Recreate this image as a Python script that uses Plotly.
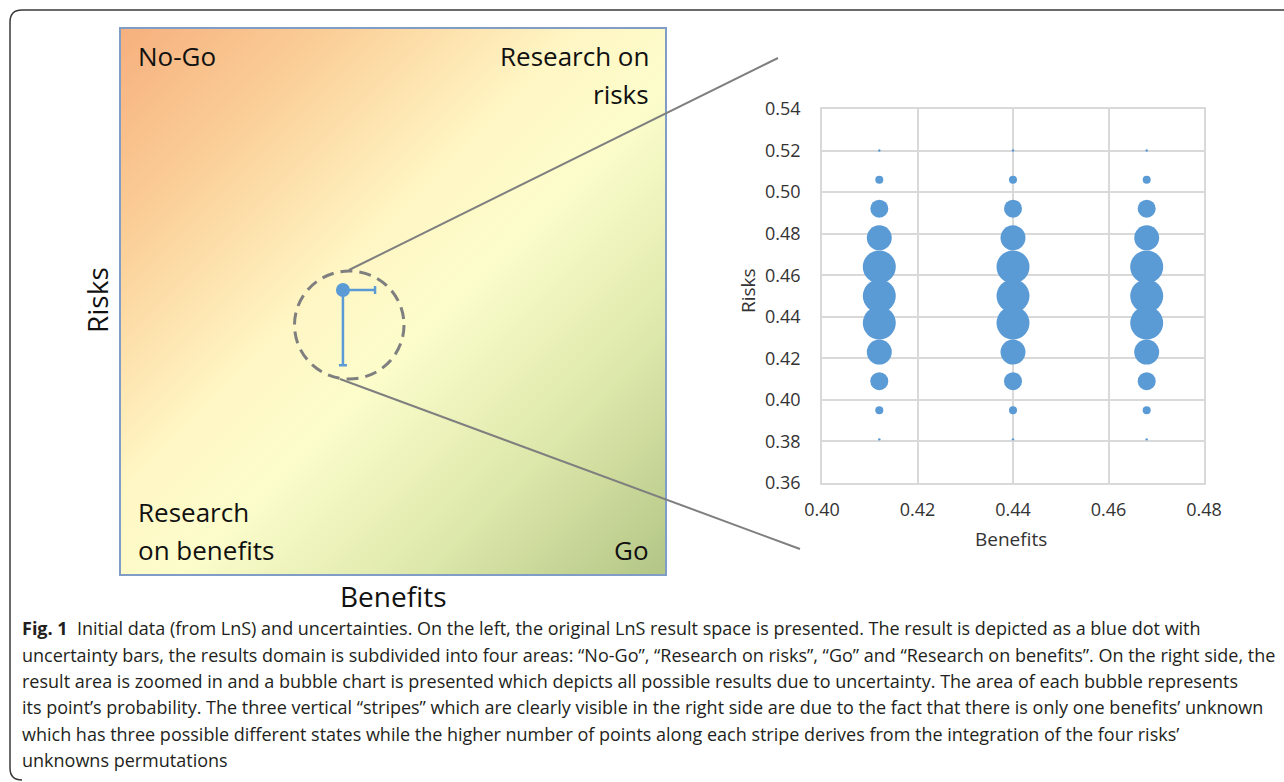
import base64
import numpy as np
import plotly.graph_objects as go

# ---------------- data ----------------
# Left panel: the LnS result (benefits, risks) with its uncertainty extents
result_benefits = [0.408]
result_risks = [0.521]
benefits_err_plus = [0.059]
risks_err_minus = [0.138]

# Right panel: bubble chart of all possible results
benefit_states = [0.412, 0.440, 0.468]
benefit_state_probs = [1 / 3, 1 / 3, 1 / 3]
risk_levels = [0.520, 0.506, 0.492, 0.478, 0.464, 0.450, 0.437, 0.423, 0.409, 0.395, 0.381]
risk_level_probs = [0.0011, 0.0121, 0.0611, 0.1178, 0.2053, 0.2053, 0.2053, 0.1178, 0.0611, 0.0121, 0.0011]

x_ticks = [0.40, 0.42, 0.44, 0.46, 0.48]
y_ticks = [0.36, 0.38, 0.40, 0.42, 0.44, 0.46, 0.48, 0.50, 0.52, 0.54]

caption_lines = [
    "<b>Fig. 1</b>\u00a0\u00a0Initial data (from LnS) and uncertainties. On the left, the original LnS result space is presented. The result is depicted as a blue dot with",
    "uncertainty bars, the results domain is subdivided into four areas: \u201cNo-Go\u201d, \u201cResearch on risks\u201d, \u201cGo\u201d and \u201cResearch on benefits\u201d. On the right side, the",
    "result area is zoomed in and a bubble chart is presented which depicts all possible results due to uncertainty. The area of each bubble represents",
    "its point\u2019s probability. The three vertical \u201cstripes\u201d which are clearly visible in the right side are due to the fact that there is only one benefits\u2019 unknown",
    "which has three possible different states while the higher number of points along each stripe derives from the integration of the four risks\u2019",
    "unknowns permutations",
]

# ---------------- layout helpers ----------------
W, H = 1284, 782


def fx(px):
    return px / W


def fy(py):
    return 1 - py / H


BLUE = "#5b9bd5"
GRAY = "#7f7f7f"
FONT = "Open Sans"

# diagonal background gradient (orange top-left -> yellow -> green bottom-right)
grad_svg = (
    '<svg xmlns="http://www.w3.org/2000/svg" width="400" height="400">'
    '<defs><linearGradient id="g" x1="0" y1="0" x2="1" y2="1">'
    '<stop offset="0" stop-color="#f6b07e"/>'
    '<stop offset="0.2" stop-color="#fbcf98"/>'
    '<stop offset="0.42" stop-color="#fff6c4"/>'
    '<stop offset="0.55" stop-color="#fcfdcb"/>'
    '<stop offset="0.78" stop-color="#dce7aa"/>'
    '<stop offset="1" stop-color="#b3c686"/>'
    '</linearGradient></defs>'
    '<rect width="400" height="400" fill="url(#g)"/></svg>'
)
grad_uri = "data:image/svg+xml;base64," + base64.b64encode(grad_svg.encode()).decode()

fig = go.Figure()

# result dot with uncertainty bars
fig.add_trace(go.Scatter(
    x=result_benefits, y=result_risks, mode="markers", xaxis="x2", yaxis="y2",
    marker=dict(size=14, color=BLUE),
    error_x=dict(type="data", symmetric=False, array=benefits_err_plus, arrayminus=[0],
                 color=BLUE, thickness=2.5, width=4),
    error_y=dict(type="data", symmetric=False, array=[0], arrayminus=risks_err_minus,
                 color=BLUE, thickness=2.5, width=4),
    hoverinfo="skip", showlegend=False,
))

# bubble chart: bubble area proportional to point probability
bx, by, bp = [], [], []
for b, pb in zip(benefit_states, benefit_state_probs):
    for r, pr in zip(risk_levels, risk_level_probs):
        bx.append(b)
        by.append(r)
        bp.append(pb * pr)
bp = np.array(bp)
sizes = 33 * np.sqrt(bp / bp.max())
fig.add_trace(go.Scatter(
    x=bx, y=by, mode="markers", xaxis="x", yaxis="y",
    marker=dict(size=sizes, color=BLUE, line=dict(width=0), opacity=1),
    showlegend=False,
))

grid_col = "#d9d9d9"
tick_font = dict(family=FONT, size=18, color="#333333")
fig.update_layout(
    width=W, height=H, margin=dict(l=0, r=0, t=0, b=0, autoexpand=False),
    paper_bgcolor="white", plot_bgcolor="rgba(0,0,0,0)", showlegend=False,
    images=[dict(source=grad_uri, xref="x2", yref="y2", x=0, y=1, sizex=1, sizey=1,
                 sizing="stretch", xanchor="left", yanchor="top", layer="below")],
    xaxis=dict(domain=[fx(822), fx(1204)], range=[0.40, 0.48], tickvals=x_ticks,
               tickformat=".2f", showgrid=True, gridcolor=grid_col, gridwidth=1.5,
               zeroline=False, showline=True, linecolor=grid_col, linewidth=1.5,
               mirror=True, ticks="", tickfont=tick_font, ticklabelstandoff=10,
               anchor="y", fixedrange=True, automargin=False),
    yaxis=dict(domain=[fy(483), fy(109)], range=[0.36, 0.54], tickvals=y_ticks,
               tickformat=".2f", showgrid=True, gridcolor=grid_col, gridwidth=1.5,
               zeroline=False, showline=True, linecolor=grid_col, linewidth=1.5,
               mirror=True, ticks="", tickfont=tick_font, ticklabelstandoff=16,
               anchor="x", fixedrange=True, automargin=False),
    xaxis2=dict(domain=[fx(121), fx(665)], range=[0, 1], showticklabels=False,
                showgrid=False, zeroline=False, showline=True, mirror=True,
                linecolor="#7f9dc6", linewidth=1.5, ticks="", anchor="y2",
                fixedrange=True, automargin=False),
    yaxis2=dict(domain=[fy(574), fy(29)], range=[0, 1], showticklabels=False,
                showgrid=False, zeroline=False, showline=True, mirror=True,
                linecolor="#7f9dc6", linewidth=1.5, ticks="", anchor="x2",
                fixedrange=True, automargin=False),
)

shapes = []
# outer rounded frame
shapes.append(dict(type="path", xref="paper", yref="paper",
                   path=(f"M {fx(1284)},{fy(10)} L {fx(22)},{fy(10)} "
                         f"Q {fx(10)},{fy(10)} {fx(10)},{fy(22)} "
                         f"L {fx(10)},{fy(768)} Q {fx(10)},{fy(780)} {fx(22)},{fy(780)}"),
                   line=dict(color="#3a3a3a", width=1.5), layer="above"))
# dashed zoom circle
shapes.append(dict(type="circle", xref="paper", yref="paper",
                   x0=fx(294.5), x1=fx(404), y0=fy(379), y1=fy(271),
                   line=dict(color=GRAY, width=3, dash="12px,7px"), layer="above"))
# zoom connector lines
shapes.append(dict(type="line", xref="paper", yref="paper",
                   x0=fx(349), y0=fy(270), x1=fx(778), y1=fy(58),
                   line=dict(color=GRAY, width=2), layer="above"))
shapes.append(dict(type="line", xref="paper", yref="paper",
                   x0=fx(340), y0=fy(379), x1=fx(800), y1=fy(549),
                   line=dict(color=GRAY, width=2), layer="above"))
fig.update_layout(shapes=shapes)

ann = []


def label(text, x, y, size, xanchor="center", angle=0, color="#111111", fam=FONT):
    ann.append(dict(text=text, x=fx(x), y=fy(y), xref="paper", yref="paper",
                    xanchor=xanchor, yanchor="middle", showarrow=False, textangle=angle,
                    font=dict(family=fam, size=size, color=color)))


# quadrant labels
label("No-Go", 136, 56, 26, "left")
label("Research on", 651, 56, 26, "right")
label("risks", 651, 94, 26, "right")
label("Research", 136, 512, 26, "left")
label("on benefits", 136, 550, 26, "left")
label("Go", 651, 550, 26, "right")
# left axis titles
label("Risks", 97, 300, 28, angle=-90)
label("Benefits", 393, 596, 28)
# right axis titles
label("Risks", 748, 290, 19, angle=-90, color="#333333")
label("Benefits", 1011, 539, 19, color="#333333")
# caption
cap_y = [628, 655, 681, 707, 734, 760]
for t, yy in zip(caption_lines, cap_y):
    label(t, 20, yy, 18, "left", color="#231f20")

fig.update_layout(annotations=ann)
fig.write_html("out.html", config={"displayModeBar": False},
               post_script="document.body.style.margin='0';")
